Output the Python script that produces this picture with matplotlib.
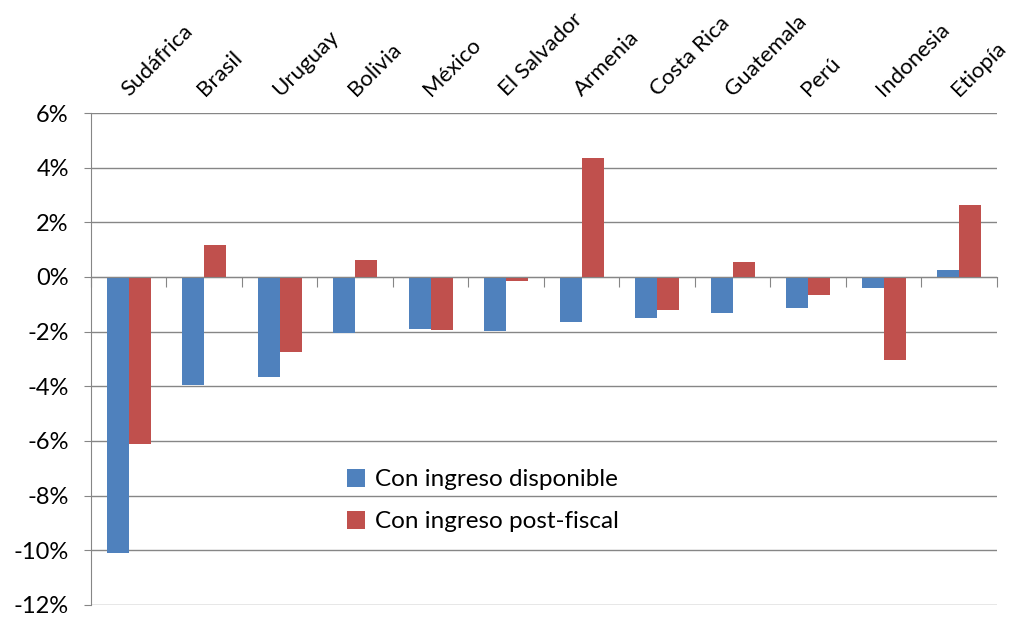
import numpy as np
import matplotlib.pyplot as plt
from matplotlib.ticker import FuncFormatter, FixedLocator

paises = ["Sudáfrica", "Brasil", "Uruguay", "Bolivia", "México", "El Salvador",
          "Armenia", "Costa Rica", "Guatemala", "Perú", "Indonesia", "Etiopía"]
disponible = [-10.1, -3.95, -3.67, -2.05, -1.9, -1.97, -1.63, -1.52, -1.33, -1.13, -0.42, 0.25]
post_fiscal = [-6.1, 1.18, -2.75, 0.61, -1.95, -0.15, 4.34, -1.22, 0.56, -0.67, -3.03, 2.62]
yticks = [6, 4, 2, 0, -2, -4, -6, -8, -10, -12]

plt.rcParams['font.family'] = ['Lato', 'DejaVu Sans']

fig = plt.figure(figsize=(10.11, 6.21), dpi=100)
ax = fig.add_axes([0.090, 0.026, 0.896, 0.792])

x = np.arange(len(paises))
w = 0.29
# blue bar left of the category center, red bar right of it
ax.bar(x - w / 2, disponible, w, color="#4F81BD", label="Con ingreso disponible", zorder=3)
ax.bar(x + w / 2, post_fiscal, w, color="#C0504D", label="Con ingreso post-fiscal", zorder=3)

ax.set_xlim(-0.5, len(paises) - 0.5)
ax.set_ylim(-12, 6)
ax.set_yticks(yticks)
ax.yaxis.set_major_formatter(FuncFormatter(lambda v, _: f"{v:.0f}%"))
ax.tick_params(axis='y', labelsize=17, length=5, color="#868686", pad=11)
ax.grid(axis='y', color="#868686", linewidth=1, zorder=0)

for s in ['top', 'right']:
    ax.spines[s].set_visible(False)
ax.spines['left'].set_color("#868686")
ax.spines['bottom'].set_color("#868686")
ax.spines['bottom'].set_position(('data', 0))
ax.spines['bottom'].set_zorder(4)
ax.xaxis.set_major_locator(FixedLocator(np.arange(-0.5, len(paises), 1.0)))
ax.tick_params(axis='x', direction='out', length=7, color="#868686", labelbottom=False)

for i, name in enumerate(paises):
    ax.text(i - 0.05, 6.75, name, rotation=45, rotation_mode='anchor',
            ha='left', va='center', fontsize=16, clip_on=False)

ax.legend(loc='center left', bbox_to_anchor=(0.258, 0.212), frameon=False,
          fontsize=17.5, handlelength=0.75, handleheight=0.75, labelspacing=0.85,
          handletextpad=0.4)

fig.savefig("out.png", dpi=100)
